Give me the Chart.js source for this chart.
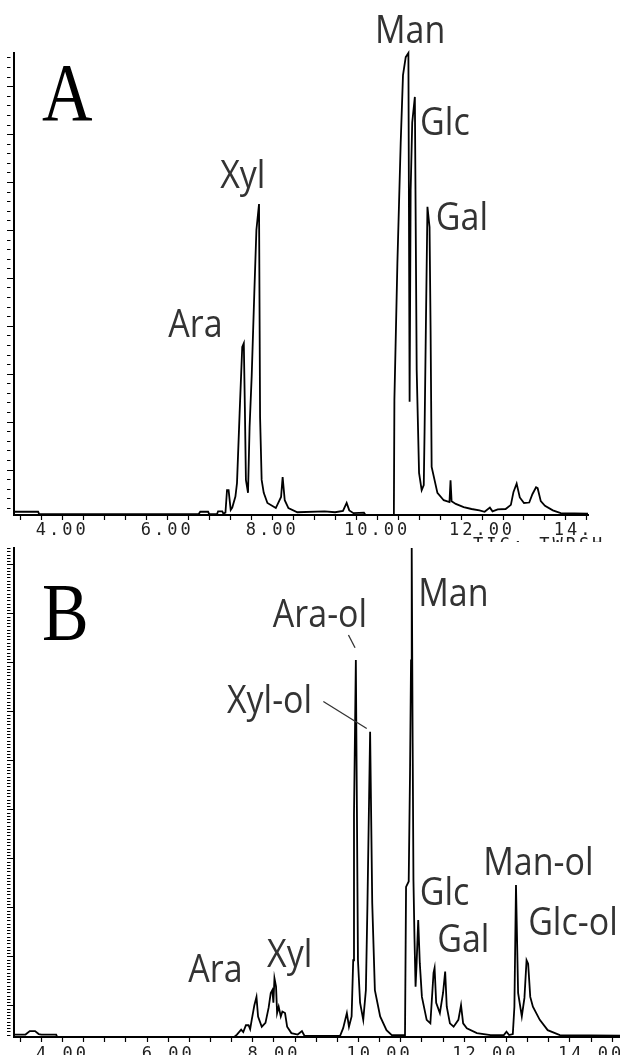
<!DOCTYPE html>
<html lang="en">
<head>
<meta charset="UTF-8">
<title>GC-MS chromatograms A and B</title>
<script src="https://cdn.jsdelivr.net/npm/chart.js"></script>
<style>
  body { margin: 0; background: #fff; }
  .panel { position: absolute; left: 0; width: 620px; }
  #panelA { top: 0; height: 542px; }
  #panelB { top: 542px; height: 513px; }
</style>
</head>
<body>
<div class="panel" id="panelA"><canvas id="chartA"></canvas></div>
<div class="panel" id="panelB"><canvas id="chartB"></canvas></div>
<script>
// Panel A: retention time (min) and TIC signal (% of the largest peak)
const timeA = [3.08, 3.54, 3.56, 6.60, 6.63, 6.78, 6.80, 6.95, 6.97, 7.05, 7.07, 7.11, 7.14, 7.17, 7.21, 7.24, 7.30, 7.33, 7.38, 7.43,
  7.46, 7.48, 7.50, 7.54, 7.57, 7.61, 7.66, 7.70, 7.75, 7.77, 7.80, 7.84, 7.91, 8.07, 8.17, 8.20, 8.24, 8.31, 8.48, 9.00,
  9.20, 9.35, 9.42, 9.47, 9.55, 9.75, 9.78, 10.32, 10.33, 10.387, 10.45, 10.494, 10.546, 10.597, 10.62, 10.64, 10.67, 10.72, 10.755, 10.80,
  10.85, 10.89, 10.905, 10.93, 10.96, 11.00, 11.02, 11.04, 11.15, 11.27, 11.38, 11.40, 11.42, 11.50, 11.65, 11.80, 11.95, 12.05, 12.15, 12.20,
  12.30, 12.45, 12.55, 12.60, 12.66, 12.72, 12.80, 12.90, 12.96, 13.03, 13.06, 13.12, 13.20, 13.35, 13.50, 14.02];
const signalA = [0.7, 0.7, 0.2, 0.2, 0.7, 0.7, 0.2, 0.2, 0.8, 0.8, 0.3, 0.5, 5.4, 5.4, 1.1, 1.6, 4.0, 6.9, 22, 36.4,
  37.2, 23.4, 7.6, 4.8, 19, 30, 48, 61.7, 67.3, 21.2, 7.6, 4.8, 2.6, 1.5, 3.9, 8.2, 3.2, 1.5, 0.6, 0.8,
  0.6, 0.9, 2.6, 1.0, 0.4, 0.5, 0, 0, 24.9, 54.5, 80.5, 95.2, 99.1, 100, 24.5, 70.3, 85, 90.5, 31.4, 9.1,
  5.4, 6.5, 18, 40.7, 66.7, 62.3, 40, 10.4, 4.8, 3.2, 2.8, 7.5, 3.0, 2.4, 1.7, 1.3, 1.0, 0.7, 1.6, 0.8,
  1.2, 1.3, 2.2, 5.0, 6.8, 3.8, 2.6, 2.7, 4.5, 6.0, 5.8, 3.0, 2.0, 1.0, 0.4, 0.3];

// Panel B
const timeB = [3.08, 3.30, 3.38, 3.48, 3.55, 3.60, 3.88, 3.90, 7.25, 7.30, 7.38, 7.42, 7.47, 7.52, 7.55, 7.58, 7.63, 7.67, 7.70, 7.77,
  7.84, 7.90, 7.94, 7.97, 7.99, 8.01, 8.04, 8.06, 8.09, 8.13, 8.16, 8.21, 8.25, 8.33, 8.45, 8.53, 8.58, 9.25, 9.31, 9.38,
  9.42, 9.47, 9.50, 9.515, 9.55, 9.57, 9.59, 9.63, 9.69, 9.74, 9.77, 9.82, 9.86, 9.91, 10.01, 10.13, 10.23, 10.48, 10.50, 10.55,
  10.575, 10.594, 10.607, 10.625, 10.64, 10.66, 10.68, 10.70, 10.73, 10.76, 10.80, 10.89, 10.96, 11.02, 11.04, 11.07, 11.14, 11.20, 11.24, 11.27,
  11.33, 11.40, 11.49, 11.54, 11.58, 11.65, 11.84, 12.10, 12.35, 12.40, 12.45, 12.52, 12.55, 12.58, 12.62, 12.69, 12.74, 12.78, 12.81, 12.85,
  12.90, 13.03, 13.18, 13.41, 14.55];
const signalB = [0.5, 0.5, 1.2, 1.2, 0.6, 0.5, 0.5, 0, 0, 0.5, 1.5, 1.0, 2.4, 2.4, 1.6, 3.5, 6.5, 8.2, 4.2, 2.1,
  2.9, 6.0, 9.0, 9.6, 7.0, 12.0, 10.3, 4.9, 6.2, 4.2, 5.2, 4.9, 2.1, 0.8, 0.5, 1.2, 0.2, 0.2, 1.8, 4.9,
  2.1, 4.2, 15.7, 45.4, 77.1, 46.8, 15.7, 7.0, 3.5, 9.6, 27.4, 62.4, 27.4, 9.6, 4.2, 1.4, 0.4, 0.4, 30.7, 31.8,
  53.9, 77, 100, 60, 32, 20, 10.3, 15.1, 23.9, 15.1, 8.2, 3.5, 2.8, 13.1, 14.1, 7.0, 4.9, 9.0, 13.4, 6.2,
  2.8, 2.1, 3.5, 6.5, 2.8, 1.8, 0.8, 0.4, 0.4, 1.1, 0.4, 0.6, 6.2, 31.1, 9.0, 4.2, 8.0, 15.7, 15.0, 8.2,
  6.2, 3.5, 1.4, 0.4, 0.3];

// x tick labels (labelled every 2 min)
const tickTimes = [4, 6, 8, 10, 12, 14];
const tickLabelsA = ['4.00', '6.00', '8.00', '10.00', '12.00', '14.  '];
const tickLabelsB = ['4.00', '6.00', '8.00', '10.00', '12.00', '14.00'];

// peak names, anchored at (time, signal) of the text's left baseline
const namesA = ['Ara', 'Xyl', 'Man', 'Glc', 'Gal'];
const nameTimeA = [6.02, 7.01, 9.96, 10.82, 11.12];
const nameLevelA = [38.5, 70.8, 102.2, 82.3, 61.7];

const namesB = ['Ara', 'Xyl', 'Ara-ol', 'Xyl-ol', 'Man', 'Glc', 'Gal', 'Man-ol', 'Glc-ol'];
const nameTimeB = [6.38, 7.87, 7.98, 7.11, 10.73, 10.76, 11.09, 11.96, 12.81];
const nameLevelB = [11.2, 14.3, 83.8, 66.3, 88.1, 27.0, 17.4, 33.1, 20.9];

// leader lines in panel B: [t1, v1, t2, v2]
const leadersB = [[9.41, 82.2, 9.535, 79.6], [8.935, 68.6, 9.756, 63.1]];

function minorTicks(from, to, step) {
  const out = [];
  for (let v = from; v <= to + 1e-9; v += step) out.push(Math.round(v * 100) / 100);
  return out;
}

function yTicks(base, step, every) {
  const out = [];
  let k = Math.ceil(-base / step);
  for (; base + k * step <= 100.01; k++) {
    out.push({ value: base + k * step, major: ((k % every) + every) % every === 0 });
  }
  return out;
}

function makeChart(id, cfg) {
  const labelPlugin = {
    id: 'peakNames',
    beforeDraw(chart) {
      chart.ctx.letterSpacing = '3px';
    },
    afterDraw(chart) {
      const ctx = chart.ctx;
      const xs = chart.scales.x, ys = chart.scales.y;
      ctx.save();
      ctx.letterSpacing = '0px';
      ctx.fillStyle = '#333';
      ctx.textBaseline = 'alphabetic';
      ctx.font = '34px "Open Sans"';
      cfg.names.forEach((name, i) => {
        ctx.save();
        ctx.translate(xs.getPixelForValue(cfg.nameTime[i]), ys.getPixelForValue(cfg.nameLevel[i]));
        ctx.scale(1, 1.12);
        ctx.fillText(name, 0, 0);
        ctx.restore();
      });
      ctx.strokeStyle = '#333';
      ctx.lineWidth = 1.3;
      (cfg.leaders || []).forEach(l => {
        ctx.beginPath();
        ctx.moveTo(xs.getPixelForValue(l[0]), ys.getPixelForValue(l[1]));
        ctx.lineTo(xs.getPixelForValue(l[2]), ys.getPixelForValue(l[3]));
        ctx.stroke();
      });
      // panel letter
      ctx.fillStyle = '#000';
      ctx.font = '70px "Liberation Serif"';
      ctx.save();
      ctx.translate(42, cfg.letterY);
      ctx.scale(1, 1.17);
      ctx.fillText(cfg.letter, 0, 0);
      ctx.restore();
      if (cfg.caption) {
        ctx.font = '17px "DejaVu Sans Mono"';
        ctx.letterSpacing = '3px';
        ctx.fillStyle = '#222';
        ctx.fillText(cfg.caption, 473, 550);
      }
      ctx.restore();
    }
  };

  return new Chart(document.getElementById(id), {
    type: 'line',
    data: {
      datasets: [{
        data: cfg.times.map((t, i) => ({ x: t, y: cfg.values[i] })),
        borderColor: '#000',
        borderWidth: 1.8,
        pointRadius: 0,
        tension: 0,
        clip: 6
      }]
    },
    options: {
      responsive: true,
      maintainAspectRatio: false,
      animation: false,
      devicePixelRatio: 1,
      parsing: false,
      layout: { padding: { top: cfg.padTop, right: cfg.padRight, left: 0, bottom: 0 } },
      plugins: { legend: { display: false }, tooltip: { enabled: false } },
      scales: {
        x: {
          type: 'linear',
          min: cfg.xMin,
          max: cfg.xMax,
          afterBuildTicks: axis => {
            axis.ticks = minorTicks(3.2, cfg.xMax, 0.4).map(v => ({ value: v }));
          },
          afterFit: axis => { axis.height = cfg.xHeight; },
          border: { color: '#000', width: 2 },
          grid: { drawOnChartArea: false, tickLength: 5, tickColor: '#000', tickWidth: 1.2 },
          ticks: {
            autoSkip: false,
            maxRotation: 0,
            padding: cfg.xPad,
            color: '#222',
            font: { family: 'DejaVu Sans Mono', size: 17 },
            callback: v => {
              const i = tickTimes.findIndex(t => Math.abs(t - v) < 1e-6);
              return i < 0 ? '' : cfg.tickLabels[i];
            }
          }
        },
        y: {
          min: 0,
          max: 100,
          afterBuildTicks: axis => { axis.ticks = cfg.yTicks; },
          afterFit: axis => { axis.width = 14; },
          border: { color: '#000', width: 2 },
          grid: {
            drawOnChartArea: false,
            tickLength: 7,
            tickColor: '#000',
            tickWidth: 1,
            tickBorderDash: c => (c.tick && c.tick.major) ? [] : [3.5, 30]
          },
          ticks: { display: false }
        }
      }
    },
    plugins: [labelPlugin]
  });
}

makeChart('chartA', {
  times: timeA, values: signalA,
  xMin: 3.08, xMax: 14.02, padTop: 53, padRight: 32, xHeight: 27, xPad: 0,
  tickLabels: tickLabelsA,
  yTicks: yTicks(9.74, 2.074, 5),
  names: namesA, nameTime: nameTimeA, nameLevel: nameLevelA,
  letter: 'A', letterY: 120, caption: 'TIC: TWRSH'
});

makeChart('chartB', {
  times: timeB, values: signalB,
  xMin: 3.082, xMax: 14.548, padTop: 6, padRight: 0, xHeight: 18, xPad: 2,
  tickLabels: tickLabelsB,
  yTicks: yTicks(16.4, 0.668, 15),
  names: namesB, nameTime: nameTimeB, nameLevel: nameLevelB, leaders: leadersB,
  letter: 'B', letterY: 98
});
</script>
</body>
</html>
